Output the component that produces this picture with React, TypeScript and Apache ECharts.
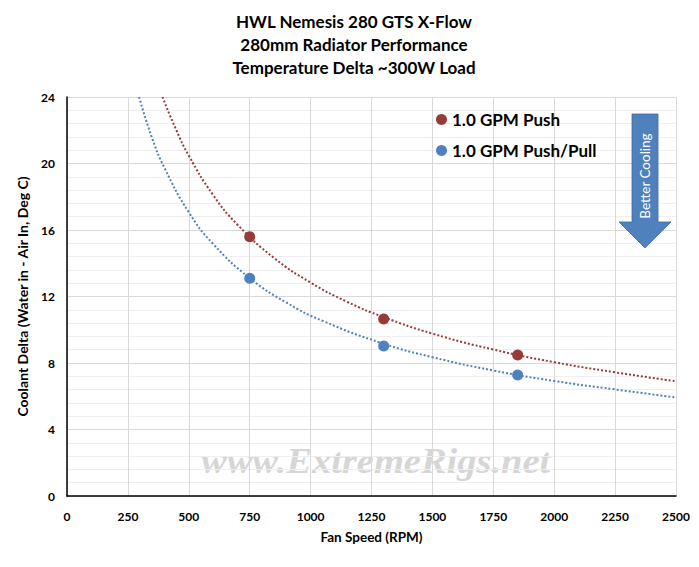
import React, { useEffect, useRef } from "react";
import * as echarts from "echarts";

const titleLines = ["HWL Nemesis 280 GTS X-Flow", "280mm Radiator Performance", "Temperature Delta ~300W Load"];
const seriesNames = ["1.0 GPM Push", "1.0 GPM Push/Pull"];
const fanSpeeds = [750, 1300, 1850];
const pushValues = [15.6, 10.65, 8.48];
const pushPullValues = [13.1, 9.02, 7.28];
// trend lines (rpm, delta)
const pushTrendRpm = [392, 450, 500, 600, 700, 850, 1000, 1150, 1300, 1500, 1750, 2000, 2250, 2500];
const pushTrendVal = [24.0, 21.97, 20.47, 18.1, 16.32, 14.32, 12.84, 11.68, 10.76, 9.77, 8.81, 8.05, 7.44, 6.9];
const pushPullTrendRpm = [296, 350, 400, 500, 600, 750, 900, 1050, 1300, 1500, 1750, 2000, 2250, 2500];
const pushPullTrendVal = [24.0, 21.5, 19.74, 17.07, 15.16, 13.11, 11.64, 10.53, 9.16, 8.35, 7.55, 6.92, 6.41, 5.93];
const xTicks = [0, 250, 500, 750, 1000, 1250, 1500, 1750, 2000, 2250, 2500];
const yTicks = [0, 4, 8, 12, 16, 20, 24];
const xAxisTitle = "Fan Speed (RPM)";
const yAxisTitle = "Coolant Delta (Water in - Air In, Deg C)";
const arrowLabel = "Better Cooling";
const watermark = "www.ExtremeRigs.net";

const RED = "#973a38";
const BLUE = "#4f81bd";
const FONT = "Lato, 'Open Sans', sans-serif";

export default function App() {
  const ref = useRef<HTMLDivElement>(null);
  useEffect(() => {
    if (!ref.current) return;
    const chart = echarts.init(ref.current, undefined, { renderer: "svg" });
    const zip = (xs: number[], ys: number[]) => xs.map((x, i) => [x, ys[i]]);
    chart.setOption({
      animation: false,
      backgroundColor: "#ffffff",
      textStyle: { fontFamily: FONT },
      title: {
        text: titleLines.join("\n"),
        left: 349,
        textAlign: "center",
        top: 5,
        textStyle: { fontFamily: FONT, fontSize: 17, fontWeight: "bold", color: "#000", lineHeight: 23 },
      },
      legend: {
        data: seriesNames,
        orient: "vertical",
        left: 431,
        top: 106,
        itemGap: 14,
        icon: "circle",
        itemWidth: 11,
        itemHeight: 11,
        textStyle: { fontFamily: FONT, fontSize: 17, fontWeight: "bold", color: "#000" },
      },
      grid: { left: 67, right: 23, top: 97, bottom: 71, containLabel: false },
      xAxis: {
        type: "value",
        min: xTicks[0],
        max: xTicks[xTicks.length - 1],
        interval: 250,
        name: xAxisTitle,
        nameLocation: "middle",
        nameGap: 34,
        nameTextStyle: { fontFamily: FONT, fontSize: 13.5, fontWeight: "bold", color: "#000" },
        axisLine: { show: true, lineStyle: { color: "#000", width: 1.5 } },
        axisTick: { show: false },
        axisLabel: {
          fontFamily: FONT,
          fontSize: 12,
          fontWeight: "bold",
          color: "#000",
          margin: 14,
          formatter: (v: number) => String(v),
        },
        splitLine: { show: true, lineStyle: { color: "#d9d9d9", width: 1 } },
      },
      yAxis: {
        type: "value",
        min: yTicks[0],
        max: yTicks[yTicks.length - 1],
        interval: 4,
        name: yAxisTitle,
        nameLocation: "middle",
        nameGap: 38,
        nameTextStyle: { fontFamily: FONT, fontSize: 14, fontWeight: "bold", color: "#000" },
        axisLine: { show: true, lineStyle: { color: "#000", width: 1.5 } },
        axisTick: { show: false },
        axisLabel: { fontFamily: FONT, fontSize: 12, fontWeight: "bold", color: "#000", margin: 12 },
        splitLine: { show: true, lineStyle: { color: "#d9d9d9", width: 1 } },
        minorTick: { show: false, splitNumber: 5 },
        minorSplitLine: { show: true, lineStyle: { color: "#efefef", width: 1 } },
      },
      graphic: [
        {
          type: "text",
          x: 201,
          y: 461,
          scaleX: 1.1,
          z: 0,
          style: {
            text: watermark,
            fontFamily: "'Liberation Serif', 'Times New Roman', serif",
            fontStyle: "italic",
            fontWeight: "bold",
            fontSize: 35,
            fill: "#d6d6d6",
            align: "left",
            verticalAlign: "middle",
          },
        },
        {
          type: "polygon",
          z: 10,
          shape: {
            points: [
              [632, 114],
              [658, 114],
              [658, 222],
              [671, 222],
              [645, 248],
              [619, 222],
              [632, 222],
            ],
          },
          style: { fill: BLUE, stroke: "#3d6a9e", lineWidth: 0.8 },
        },
        {
          type: "text",
          z: 11,
          x: 645,
          y: 176,
          rotation: Math.PI / 2,
          style: {
            text: arrowLabel,
            fontFamily: FONT,
            fontSize: 13.5,
            fill: "#ffffff",
            align: "center",
            verticalAlign: "middle",
          },
        },
      ],
      series: [
        {
          name: seriesNames[0] + " trend",
          type: "line",
          data: zip(pushTrendRpm, pushTrendVal),
          smooth: true,
          showSymbol: false,
          silent: true,
          lineStyle: { color: RED, width: 2, type: [2, 2] },
          z: 2,
        },
        {
          name: seriesNames[1] + " trend",
          type: "line",
          data: zip(pushPullTrendRpm, pushPullTrendVal),
          smooth: true,
          showSymbol: false,
          silent: true,
          lineStyle: { color: BLUE, width: 2, type: [2, 2] },
          z: 2,
        },
        {
          name: seriesNames[0],
          type: "scatter",
          data: zip(fanSpeeds, pushValues),
          symbol: "circle",
          symbolSize: 11,
          itemStyle: { color: RED, opacity: 1 },
          z: 3,
        },
        {
          name: seriesNames[1],
          type: "scatter",
          data: zip(fanSpeeds, pushPullValues),
          symbol: "circle",
          symbolSize: 11,
          itemStyle: { color: BLUE, opacity: 1 },
          z: 3,
        },
      ],
    });
    return () => chart.dispose();
  }, []);
  return <div ref={ref} style={{ width: 699, height: 567, margin: -8 }} />;
}
